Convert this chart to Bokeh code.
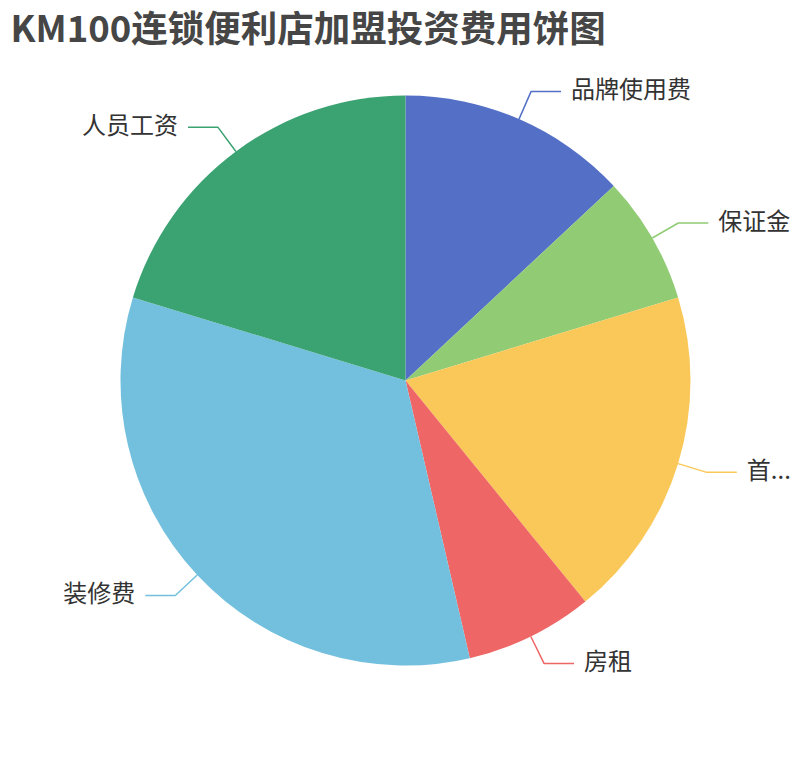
import numpy as np
from bokeh.plotting import figure
from bokeh.models import Range1d, ColumnDataSource
from bokeh.core.properties import value
from bokeh.embed import file_html
from bokeh.resources import INLINE

# ---- data ----
title_text = "KM100连锁便利店加盟投资费用饼图"
names = ["品牌使用费", "保证金", "首...", "房租", "装修费", "人员工资"]
values = [3.6, 2.0, 5.2, 2.0, 9.2, 5.6]
colors = ["#5470c6", "#91cc75", "#fac858", "#ee6666", "#73c0de", "#3ba272"]

# ---- layout (pixel units; data y = 760 - screen y) ----
CX, CY = 405.0, 380.0
R = 285.0
LEN1, LEN2, GAP = 30.0, 30.0, 10.0
TEXT_DY = 4.0
FONT = "Noto Sans CJK SC"

vals = np.array(values, dtype=float)
frac = vals / vals.sum()
cum = np.concatenate([[0.0], np.cumsum(frac)])
# clockwise from top
a_start = np.pi / 2 - 2 * np.pi * cum[:-1]
a_end = np.pi / 2 - 2 * np.pi * cum[1:]
mid = (a_start + a_end) / 2

wedge_src = ColumnDataSource(dict(start=a_end, end=a_start, color=colors, name=names))

xs, ys, tx, ty, talign = [], [], [], [], []
for m in mid:
    c, s = np.cos(m), np.sin(m)
    x0, y0 = CX + R * c, CY + R * s
    x1, y1 = CX + (R + LEN1) * c, CY + (R + LEN1) * s
    d = 1 if c >= 0 else -1
    x2, y2 = x1 + d * LEN2, y1
    xs.append([x0, x1, x2])
    ys.append([y0, y1, y2])
    tx.append(x2 + d * GAP)
    ty.append(y2 + TEXT_DY)
    talign.append("left" if d > 0 else "right")

p = figure(width=794, height=744, x_range=Range1d(0, 794), y_range=Range1d(16, 760),
           output_backend="svg", toolbar_location=None, x_axis_type=None, y_axis_type=None,
           min_border=0, outline_line_color=None,
           background_fill_color="white", border_fill_color="white")

p.wedge(x=CX, y=CY, radius=R, start_angle="start", end_angle="end",
        fill_color="color", line_color=None, source=wedge_src)

p.multi_line(xs=xs, ys=ys, line_color=colors, line_width=1.5)

lab_src = ColumnDataSource(dict(x=tx, y=ty, text=names, align=talign))
p.text(x="x", y="y", text="text", text_align="align", text_baseline="middle",
       text_font=value(FONT), text_font_size="24px", text_color="#333333", source=lab_src)

p.text(x=[10], y=[760 - 26], text=[title_text], text_align="left", text_baseline="middle",
       text_font=value(FONT), text_font_size="36.5px", text_font_style="bold",
       text_color="#464646")

open("out.html", "w").write(file_html(p, INLINE))
